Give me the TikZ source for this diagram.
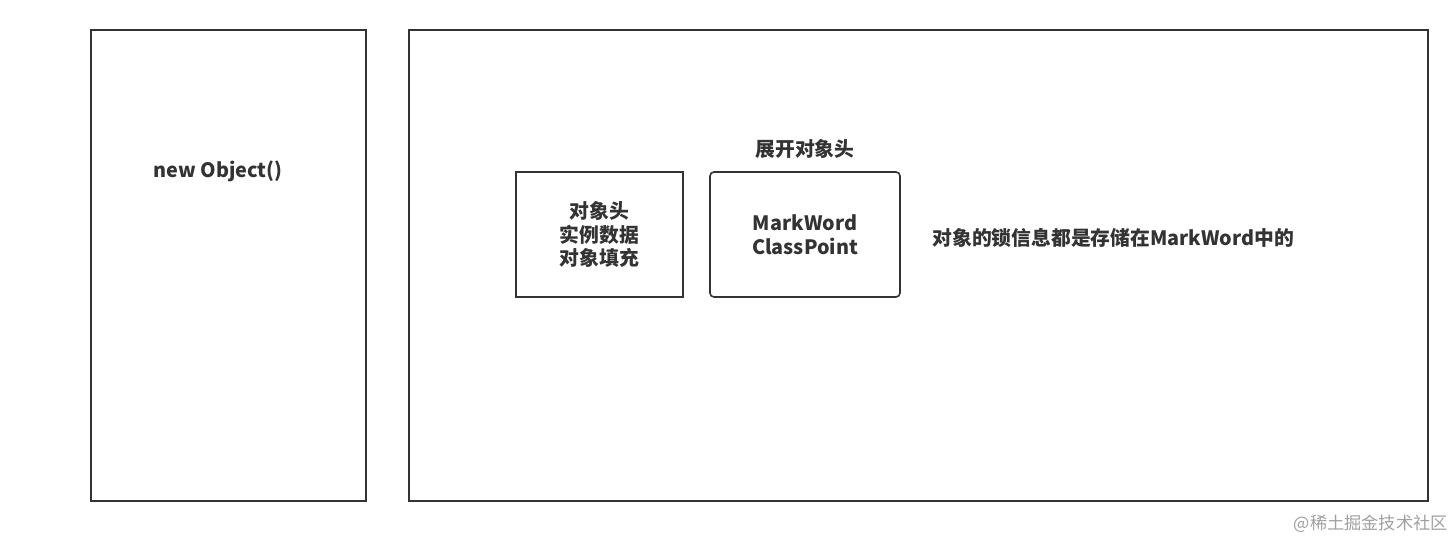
\documentclass[tikz,border=0pt]{standalone}
\usepackage{fontspec}
\setmainfont{Noto Sans CJK SC}
\usetikzlibrary{positioning}

\definecolor{linegray}{HTML}{333333}
\definecolor{textgray}{HTML}{333333}
\definecolor{markgray}{HTML}{A0A0A0}

\begin{document}
\begin{tikzpicture}[x=0.5pt,y=-0.5pt,
    frame/.style={draw=linegray, line width=0.8pt, inner sep=0pt},
    label/.style={text=textgray, font=\bfseries\fontsize{9.9}{11.8}\selectfont, align=center, inner sep=0pt}]
    % page size (pixels of the reference)
    \useasboundingbox (0,0) rectangle (1454,540);

    % left box: the new object
    \node[frame, minimum width=137.5pt, minimum height=235.5pt] (objbox) at (228.5,265.5) {};
    \node[label] (newobj) at (218,171) {new Object()};

    % right box: the object layout
    \node[frame, minimum width=509.5pt, minimum height=235.5pt] (layoutbox) at (918.5,265.5) {};

    % object parts and the expanded header
    \node[frame, label, minimum width=83.5pt, minimum height=62.5pt] (parts) at (599.5,234.5)
        {对象头\\实例数据\\对象填充};
    \node[frame, label, rounded corners=2pt, minimum width=95pt, minimum height=62.5pt] (header) at (805,234.5)
        {MarkWord\\ClassPoint};
    \node[label, above=6pt of header] (headertitle) {展开对象头};

    % note on the lock information
    \node[label, anchor=west] (locknote) at (932,238) {对象的锁信息都是存储在MarkWord中的};

    % watermark
    \node[text=markgray, font=\fontsize{8.6}{10}\selectfont, anchor=east, inner sep=0pt] (mark) at (1448,524)
        {@稀土掘金技术社区};
\end{tikzpicture}
\end{document}
